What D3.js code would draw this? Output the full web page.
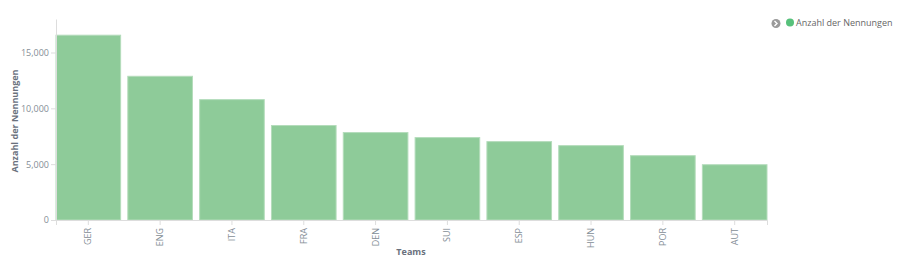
<!DOCTYPE html>
<html><head><meta charset="utf-8">
<script src="https://cdn.jsdelivr.net/npm/d3@7"></script>
<style>
body{margin:0;background:#fff;font-family:"Open Sans",sans-serif;}
</style></head>
<body><svg id="c" width="898" height="266"></svg>
<script>
const teams = ["GER","ENG","ITA","FRA","DEN","SUI","ESP","HUN","POR","AUT"];
const counts = [16550,12870,10780,8460,7830,7380,7020,6660,5760,4950];
const yTicks = [0,5000,10000,15000];
const seriesName = "Anzahl der Nennungen";
const xTitle = "Teams";
const yTitle = "Anzahl der Nennungen";

const svg = d3.select("#c");
const m = {l:56, r:131, t:19, b:46};
const W = 898, H = 266;
const x = d3.scaleBand().domain(teams).range([m.l, W-m.r]).paddingInner(0.1).paddingOuter(0);
const y = d3.scaleLinear().domain([0,18000]).range([H-m.b, m.t]);

const fmt = d3.format(",");
// bars
svg.append("g").selectAll("rect").data(teams).join("rect")
  .attr("x", d => x(d))
  .attr("y", (d,i) => y(counts[i]))
  .attr("width", x.bandwidth())
  .attr("height", (d,i) => y(0) - y(counts[i]))
  .attr("fill", "#8ecb99")
  .attr("stroke", "#b4dcbb").attr("stroke-width", 1);

// y axis
const ya = svg.append("g").attr("transform", `translate(${m.l},0)`)
  .call(d3.axisLeft(y).tickValues(yTicks).tickFormat(fmt).tickSize(5).tickSizeOuter(0));
ya.select(".domain").attr("stroke","#ddd");
ya.selectAll(".tick line").attr("stroke","#ddd");
ya.selectAll(".tick text").attr("fill","#848e96").attr("font-size","9px").attr("font-family","Open Sans").attr("x",-7);

// x axis
const xa = svg.append("g").attr("transform", `translate(0,${y(0)})`)
  .call(d3.axisBottom(x).tickSize(5).tickSizeOuter(5));
xa.select(".domain").attr("stroke","#ddd");
xa.selectAll(".tick line").attr("stroke","#ddd");
xa.selectAll(".tick text").attr("fill","#848e96").attr("font-size","9px").attr("font-family","Open Sans")
  .attr("transform","rotate(-90)").attr("text-anchor","end").attr("x",-8).attr("y",0).attr("dy","0.33em");

// titles
svg.append("text").attr("x", 411).attr("y", 255).attr("text-anchor","middle")
  .attr("font-size","9px").attr("font-weight","bold").attr("fill","#6a717d").text(xTitle);
svg.append("text").attr("transform","translate(18,121) rotate(-90)").attr("text-anchor","middle")
  .attr("font-size","9px").attr("font-weight","bold").attr("fill","#6a717d").text(yTitle);

// legend
const lg = svg.append("g");
lg.append("circle").attr("cx",776).attr("cy",23.5).attr("r",4.5).attr("fill","#9a9a9a");
lg.append("path").attr("d","M774.5,21 L777,23.5 L774.5,26").attr("fill","none").attr("stroke","#fff").attr("stroke-width",1.4);
lg.append("circle").attr("cx",790).attr("cy",22.5).attr("r",4).attr("fill","#57c17b");
lg.append("text").attr("x",796).attr("y",26).attr("font-size","9px").attr("fill","#666").text(seriesName);
</script></body></html>
